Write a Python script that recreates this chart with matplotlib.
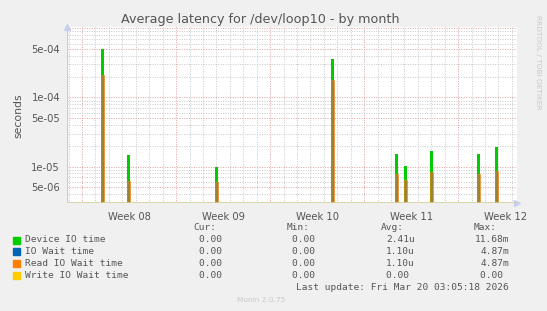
import numpy as np
import matplotlib
matplotlib.use("Agg")
import matplotlib.pyplot as plt

# ---------------------------------------------------------------------------
# Data (days from left edge of the graph, seconds)
spike_day = [2.66, 4.56, 11.12, 19.75, 24.52, 25.19, 27.13, 30.63, 31.97]
device_io = [5.0e-4, 1.48e-5, 9.7e-6, 3.6e-4, 1.53e-5, 1.0e-5, 1.69e-5, 1.53e-5, 1.89e-5]
read_wait = [2.1e-4, 6.1e-6, 5.9e-6, 1.8e-4, 7.6e-6, 6.3e-6, 8.3e-6, 7.6e-6, 8.4e-6]

week_start = [1.12, 8.12, 15.12, 22.12, 29.12]
week_labels = ["Week 08", "Week 09", "Week 10", "Week 11", "Week 12"]
ytick_vals = [5e-6, 1e-5, 5e-5, 1e-4, 5e-4]
ytick_labels = ["5e-06", "1e-05", "5e-05", "1e-04", "5e-04"]

legend_names = ["Device IO time", "IO Wait time", "Read IO Wait time", "Write IO Wait time"]
legend_colors = ["#00cc00", "#0066b3", "#ff8000", "#ffcc00"]
cur_vals = ["0.00 ", "0.00 ", "0.00 ", "0.00 "]
min_vals = ["0.00 ", "0.00 ", "0.00 ", "0.00 "]
avg_vals = ["2.41u", "1.10u", "1.10u", "0.00 "]
max_vals = ["11.68m", "4.87m", "4.87m", "0.00 "]

# ---------------------------------------------------------------------------
BG = "#f0f0f0"
TXT = "#555555"
fig = plt.figure(figsize=(5.47, 3.11), dpi=100, facecolor=BG)
ax = fig.add_axes([67/547, 1-203.3/311, 450/547, 176/311])
ax.set_facecolor("white")
ax.set_yscale("log")
ax.set_xlim(0, 33.5)
ax.set_ylim(2.95e-6, 1.03e-3)

# grid
dot = (0, (1, 1.5))
for d in np.arange(0.12, 33.5, 1.0):
    if min(abs(d - w) for w in week_start) > 0.01:
        ax.axvline(d, color="#c8c8c8", lw=0.7, ls=dot, zorder=0)
for w in week_start:
    ax.axvline(w, color="#e0a0a0", lw=0.7, ls=dot, zorder=0)
for e in range(-6, -2):
    for m in range(1, 10):
        v = m * 10.0**e
        if 2.95e-6 < v < 1.03e-3:
            c = "#e0a0a0" if m in (1, 5) else "#c8c8c8"
            ax.axhline(v, color=c, lw=0.7, ls=dot, zorder=0)

# spikes
bw = 0.22
ax.bar(spike_day, device_io, width=bw, bottom=1e-7, color="#00cc00", zorder=2)
ax.bar(spike_day, read_wait, width=bw, bottom=1e-7, color="#9c8238",
       edgecolor="#ff8000", linewidth=0.4, zorder=3)

# axes lines
for s in ax.spines.values():
    s.set_visible(False)
ax.axhline(2.95e-6, color="#d8cc98", lw=1.2, zorder=4)
ax.axvline(0, color="#c8cce0", lw=1.0, zorder=4)
ax.plot(0, 1.0, marker="^", color="#c8d0f0", ms=4, transform=ax.transAxes, clip_on=False)
ax.plot(1.0, 0, marker=">", color="#c8d0f0", ms=4, transform=ax.transAxes, clip_on=False)

ax.set_yticks(ytick_vals)
ax.set_yticklabels(ytick_labels)
ax.yaxis.set_minor_locator(matplotlib.ticker.NullLocator())
ax.set_xticks([w + 3.5 for w in week_start])
ax.set_xticklabels(week_labels)
ax.tick_params(axis="both", length=0, colors=TXT, labelsize=7.2, pad=5)
ax.tick_params(axis="x", pad=6)
ax.set_ylabel("seconds", color=TXT, fontsize=7.8, labelpad=6)

fig.text(260/547, 1-19/311, "Average latency for /dev/loop10 - by month",
         ha="center", va="center", color=TXT, fontsize=9.2)
fig.text(538/547, 1-15/311, "RRDTOOL / TOBI OETIKER", rotation=270,
         ha="center", va="top", color="#c8c8c8", fontsize=5.3)

# legend table
mono = "DejaVu Sans Mono"
fs = 6.8
fig.text(193/547, 1-228/311, "Cur:", family=mono, fontsize=fs, color=TXT, va="center")
fig.text(287/547, 1-228/311, "Min:", family=mono, fontsize=fs, color=TXT, va="center")
fig.text(381/547, 1-228/311, "Avg:", family=mono, fontsize=fs, color=TXT, va="center")
fig.text(474/547, 1-228/311, "Max:", family=mono, fontsize=fs, color=TXT, va="center")
for i, name in enumerate(legend_names):
    y = 1 - (240 + 11.8*i)/311
    fig.patches.append(plt.Rectangle((13/547, y - 3.5/311), 7/547, 7/311,
                                     color=legend_colors[i], transform=fig.transFigure))
    fig.text(25/547, y, name, family=mono, fontsize=fs, color=TXT, va="center")
    fig.text(228/547, y, cur_vals[i], family=mono, fontsize=fs, color=TXT, va="center", ha="right")
    fig.text(321/547, y, min_vals[i], family=mono, fontsize=fs, color=TXT, va="center", ha="right")
    fig.text(415/547, y, avg_vals[i], family=mono, fontsize=fs, color=TXT, va="center", ha="right")
    fig.text(509/547, y, max_vals[i], family=mono, fontsize=fs, color=TXT, va="center", ha="right")
fig.text(509/547, 1-288/311, "Last update: Fri Mar 20 03:05:18 2026", family=mono,
         fontsize=fs, color=TXT, va="center", ha="right")
fig.text(261/547, 1-300/311, "Munin 2.0.75", fontsize=5.3, color="#c8c8c8",
         ha="center", va="center")

fig.savefig("out.png", dpi=100, facecolor=BG)
